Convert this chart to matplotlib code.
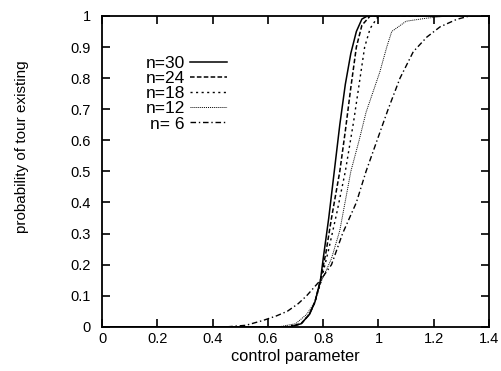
import matplotlib
matplotlib.use("Agg")
import matplotlib.pyplot as plt
from matplotlib.ticker import FuncFormatter

plt.rcParams["font.family"] = ["Liberation Sans", "DejaVu Sans"]

# control parameter / probability readings per ring size n
x30 = [0.0, 0.68, 0.72, 0.75, 0.77, 0.79, 0.80, 0.82, 0.84, 0.86, 0.88, 0.90, 0.92, 0.94, 0.96, 1.4]
p30 = [0.0, 0.0, 0.01, 0.04, 0.08, 0.15, 0.22, 0.35, 0.50, 0.65, 0.78, 0.88, 0.95, 0.99, 1.0, 1.0]

x24 = [0.0, 0.68, 0.72, 0.75, 0.77, 0.79, 0.81, 0.83, 0.86, 0.88, 0.90, 0.92, 0.94, 0.97, 1.4]
p24 = [0.0, 0.0, 0.01, 0.04, 0.08, 0.15, 0.24, 0.35, 0.50, 0.63, 0.77, 0.90, 0.97, 1.0, 1.0]

x18 = [0.0, 0.66, 0.72, 0.75, 0.77, 0.79, 0.82, 0.85, 0.88, 0.91, 0.93, 0.95, 0.97, 1.0, 1.4]
p18 = [0.0, 0.0, 0.01, 0.04, 0.08, 0.14, 0.25, 0.37, 0.50, 0.66, 0.78, 0.90, 0.96, 1.0, 1.0]

x12 = [0.0, 0.64, 0.70, 0.74, 0.77, 0.79, 0.83, 0.86, 0.90, 0.93, 0.955, 0.98, 1.005, 1.03, 1.048, 1.10, 1.175, 1.25, 1.4]
p12 = [0.0, 0.0, 0.01, 0.04, 0.08, 0.14, 0.22, 0.31, 0.50, 0.60, 0.69, 0.755, 0.82, 0.90, 0.95, 0.983, 0.993, 1.0, 1.0]

x6 = [0.0, 0.45, 0.52, 0.58, 0.63, 0.67, 0.71, 0.74, 0.77, 0.79, 0.83, 0.87, 0.92, 0.955, 0.995, 1.035, 1.078, 1.126, 1.175, 1.223, 1.283, 1.33, 1.4]
p6 = [0.0, 0.0, 0.005, 0.02, 0.035, 0.05, 0.075, 0.10, 0.13, 0.15, 0.20, 0.30, 0.40, 0.50, 0.60, 0.70, 0.80, 0.885, 0.932, 0.965, 0.989, 1.0, 1.0]

labels = ["n=30", "n=24", "n=18", "n=12", "n= 6"]

fig = plt.figure(figsize=(5.01, 3.71), dpi=100)
ax = fig.add_axes([0.204, 0.119, 0.772, 0.838])

ax.plot(x30, p30, color="black", lw=1.1, ls="-", label=labels[0])
ax.plot(x24, p24, color="black", lw=1.1, ls=(0, (3, 1.5)), label=labels[1])
ax.plot(x18, p18, color="black", lw=1.0, ls=(0, (1.5, 2.5)), label=labels[2])
ax.plot(x12, p12, color="black", lw=0.7, ls=(0, (1, 1)), label=labels[3])
ax.plot(x6, p6, color="black", lw=1.0, ls=(0, (4, 2, 1, 2)), label=labels[4])

ax.set_xlim(0, 1.4)
ax.set_ylim(0, 1)
ax.set_xticks([0, 0.2, 0.4, 0.6, 0.8, 1.0, 1.2, 1.4])
ax.set_yticks([0, 0.1, 0.2, 0.3, 0.4, 0.5, 0.6, 0.7, 0.8, 0.9, 1.0])
fmt = FuncFormatter(lambda v, pos: f"{v:g}")
ax.xaxis.set_major_formatter(fmt)
ax.yaxis.set_major_formatter(fmt)
ax.tick_params(direction="in", top=True, right=True, length=6, width=1.2, labelsize=10.5)
ax.tick_params(axis="y", pad=8)
ax.tick_params(axis="x", pad=4)
for s in ax.spines.values():
    s.set_linewidth(1.3)

ax.set_xlabel("control parameter", fontsize=11.8, labelpad=2)
ax.set_ylabel("probability of tour existing", fontsize=11)
ax.yaxis.set_label_coords(-0.189, 0.579)

ax.legend(loc="upper left", bbox_to_anchor=(0.112, 0.872), frameon=False, markerfirst=False,
          fontsize=12.5, handlelength=2.1, handletextpad=0.3, labelspacing=0.0, borderpad=0,
          borderaxespad=0)

fig.savefig("out.png", dpi=100)
